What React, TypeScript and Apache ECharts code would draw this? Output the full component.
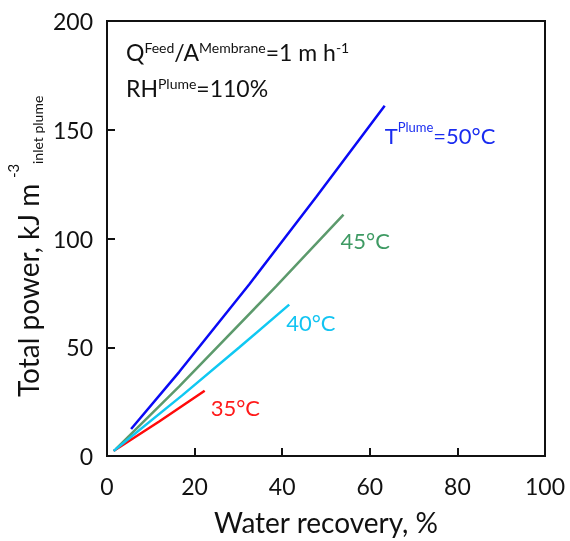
import React, { useEffect, useRef } from 'react';
import * as echarts from 'echarts';

// Data
const recovery50 = [5.5, 16.5, 32.5, 47.8, 63.4];
const power50 = [12.4, 38.7, 79, 119.2, 161];
const recovery45 = [2, 16.5, 38.6, 54];
const power45 = [3.2, 32, 78, 111];
const recovery40 = [1.5, 17.3, 30.3, 41.6];
const power40 = [2.3, 28.1, 50.1, 69.6];
const recovery35 = [1.5, 12, 22.3];
const power35 = [2.3, 16, 30];
const xTickValues = [0, 20, 40, 60, 80, 100];
const yTickValues = [0, 50, 100, 150, 200];

const FONT = 'Lato';
const zip = (xs: number[], ys: number[]) => xs.map((x, i) => [x, ys[i]]);

export default function App() {
  const ref = useRef<HTMLDivElement>(null);
  useEffect(() => {
    if (!ref.current) return;
    const chart = echarts.init(ref.current, null, { renderer: 'svg' });
    const labelBase = (color: string) => ({
      show: true,
      distance: 0,
      align: 'left',
      verticalAlign: 'middle',
      fontFamily: FONT,
      fontSize: 22,
      color,
    });
    const mkLine = (name: string, xs: number[], ys: number[], color: string, labelColor: string, text: string, offset: number[], rich?: any) => ({
      name,
      type: 'line',
      data: zip(xs, ys),
      showSymbol: false,
      symbol: 'none',
      lineStyle: { color, width: 2.5 },
      itemStyle: { color },
      endLabel: { ...labelBase(labelColor), formatter: text, offset, rich },
      z: 3,
    });
    chart.setOption({
      animation: false,
      grid: { left: 107, right: 25, top: 21, bottom: 81, show: true, borderColor: '#111', borderWidth: 2, backgroundColor: 'transparent' },
      xAxis: {
        type: 'value', min: xTickValues[0], max: xTickValues[xTickValues.length - 1], interval: 20,
        axisLine: { show: true, lineStyle: { color: '#111', width: 2 } },
        axisTick: { show: true, inside: true, length: 8, lineStyle: { color: '#111', width: 2 } },
        splitLine: { show: false },
        axisLabel: { fontFamily: FONT, fontSize: 23, color: '#111', margin: 18 },
        name: 'Water recovery, %', nameLocation: 'middle', nameGap: 52,
        nameTextStyle: { fontFamily: FONT, fontSize: 28, color: '#111' },
      },
      yAxis: {
        type: 'value', min: yTickValues[0], max: yTickValues[yTickValues.length - 1], interval: 50,
        axisLine: { show: true, lineStyle: { color: '#111', width: 2 } },
        axisTick: { show: true, inside: true, length: 8, lineStyle: { color: '#111', width: 2 } },
        splitLine: { show: false },
        axisLabel: { fontFamily: FONT, fontSize: 23, color: '#111', margin: 14 },
      },
      graphic: [
        { type: 'text', x: 28, y: 397, rotation: Math.PI / 2, style: { text: 'Total power, kJ m', fontFamily: FONT, fontSize: 28, fill: '#111', textAlign: 'left', textVerticalAlign: 'middle' } },
        { type: 'text', x: 13, y: 178, rotation: Math.PI / 2, style: { text: '-3', fontFamily: FONT, fontSize: 15, fill: '#111', textAlign: 'left', textVerticalAlign: 'middle' } },
        { type: 'text', x: 37, y: 164, rotation: Math.PI / 2, style: { text: 'inlet plume', fontFamily: FONT, fontSize: 14, fill: '#111', textAlign: 'left', textVerticalAlign: 'middle' } },
        {
          type: 'text', left: 126, top: 34,
          style: {
            text: '{n|Q}{s|Feed}{n|/A}{s|Membrane}{n|=1 m h}{s|-1}\n{n|RH}{s|Plume}{n|=110%}',
            fontFamily: FONT, fill: '#111',
            rich: {
              n: { fontFamily: FONT, fontSize: 23, lineHeight: 36, fill: '#111', color: '#111' },
              s: { fontFamily: FONT, fontSize: 14, lineHeight: 36, fill: '#111', color: '#111', verticalAlign: 'top', padding: [6, 0, 0, 0] },
            },
          },
        },
      ],
      series: [
        mkLine('50', recovery50, power50, '#0a0af5', '#1a2cf0', '{n|T}{s|Plume}{n|=50°C}', [0, 28], {
          n: { fontFamily: FONT, fontSize: 22, color: '#1a2cf0', verticalAlign: 'bottom', lineHeight: 26 },
          s: { fontFamily: FONT, fontSize: 13, color: '#1a2cf0', verticalAlign: 'top', lineHeight: 26 },
        }),
        mkLine('45', recovery45, power45, '#5c9a6c', '#3e9a63', '45°C', [-3, 26]),
        mkLine('35', recovery35, power35, '#ff0a0a', '#ff1a1a', '35°C', [6, 17]),
        mkLine('40', recovery40, power40, '#10c8f2', '#12c4f2', '40°C', [-3, 18]),
      ],
    });
    return () => chart.dispose();
  }, []);
  return <div ref={ref} style={{ position: 'fixed', left: 0, top: 0, width: 570, height: 541 }} />;
}
